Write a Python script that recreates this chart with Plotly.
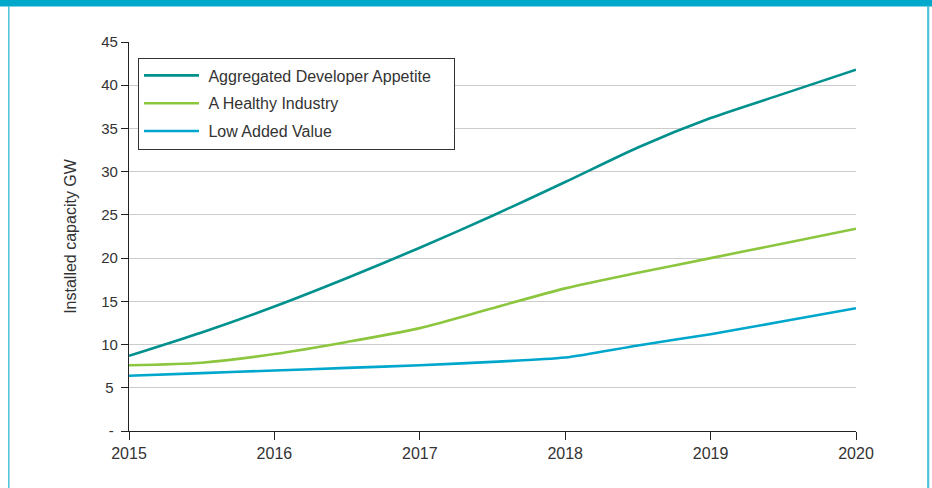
import plotly.graph_objects as go

years = [2015, 2015.5, 2016, 2016.5, 2017, 2017.5, 2018, 2018.5, 2019, 2019.5, 2020]
aggregated = [8.7, 11.4, 14.4, 17.7, 21.2, 24.9, 28.8, 32.8, 36.2, 39.0, 41.8]
healthy = [7.6, 7.9, 8.9, 10.3, 11.9, 14.2, 16.5, 18.3, 20.0, 21.7, 23.4]
low_added = [6.4, 6.7, 7.0, 7.3, 7.6, 8.0, 8.5, 9.9, 11.2, 12.7, 14.2]

series_names = ["Aggregated Developer Appetite", "A Healthy Industry", "Low Added Value"]
series_colors = ["#00918e", "#8cc63f", "#00a7cc"]

NBSP = "\u00a0"

x_ticks = [2015, 2016, 2017, 2018, 2019, 2020]
y_tickvals = [0, 5, 10, 15, 20, 25, 30, 35, 40, 45]
y_ticktext = ["-" + NBSP, "5" + NBSP, "10", "15", "20", "25", "30", "35", "40", "45"]

fig = go.Figure()
for name, vals, col in zip(series_names, [aggregated, healthy, low_added], series_colors):
    fig.add_trace(go.Scatter(
        x=years, y=vals, name=NBSP + name + NBSP * 4, mode="lines",
        line=dict(color=col, width=2.6, shape="spline", smoothing=0.7),
        legendgroup=name,
    ))

font = "Liberation Sans, Arial, Helvetica, sans-serif"

L, R, T, B = 129, 76, 42, 57
W, H = 932, 488
pw, ph = W - L - R, H - T - B

def px_x(p):
    return (p - L) / pw

def px_y(p):
    return (H - B - p) / ph

shapes = [
    # top band
    dict(type="rect", xref="paper", yref="paper", x0=px_x(0), x1=px_x(W), y0=px_y(6.5), y1=px_y(-2),
         fillcolor="#00a8cc", line=dict(width=0), layer="above"),
    # left border
    dict(type="line", xref="paper", yref="paper", x0=px_x(8.8), x1=px_x(8.8), y0=px_y(6), y1=px_y(H + 2),
         line=dict(color="#4dc2dc", width=1.5)),
    # right border
    dict(type="line", xref="paper", yref="paper", x0=px_x(928.2), x1=px_x(928.2), y0=px_y(6), y1=px_y(H + 2),
         line=dict(color="#4dc2dc", width=2.2)),
]

fig.update_layout(
    width=W, height=H, autosize=False,
    margin=dict(l=L, r=R, t=T, b=B, pad=0),
    paper_bgcolor="white", plot_bgcolor="white",
    font=dict(family=font, size=15, color="#333333"),
    shapes=shapes,
    showlegend=True,
    legend=dict(
        x=px_x(138), y=px_y(57.5), xanchor="left", yanchor="top",
        bgcolor="white", bordercolor="#333333", borderwidth=1,
        font=dict(family=font, size=16, color="#333333"),
        tracegroupgap=4, itemwidth=55,
    ),
    xaxis=dict(
        range=[2015, 2020], tickvals=x_ticks, ticktext=[str(v) for v in x_ticks],
        showgrid=False, zeroline=False,
        showline=True, linecolor="#222222", linewidth=1.3,
        ticks="outside", ticklen=8, tickcolor="#222222", tickwidth=1.2,
        tickfont=dict(family=font, size=16, color="#333333"),
        fixedrange=True,
    ),
    yaxis=dict(
        range=[0, 45], tickvals=y_tickvals, ticktext=y_ticktext,
        showgrid=True, gridcolor="#cccccc", gridwidth=1, zeroline=False,
        showline=True, linecolor="#222222", linewidth=1.3,
        ticks="outside", ticklen=7, tickcolor="#222222", tickwidth=1.2,
        tickfont=dict(family=font, size=15, color="#333333"),
        title=dict(text="Installed capacity GW", font=dict(family=font, size=16, color="#333333"), standoff=20),
        fixedrange=True,
    ),
)

fig.write_html("out.html", config={"displayModeBar": False},
               post_script="document.body.style.margin='0px';")
